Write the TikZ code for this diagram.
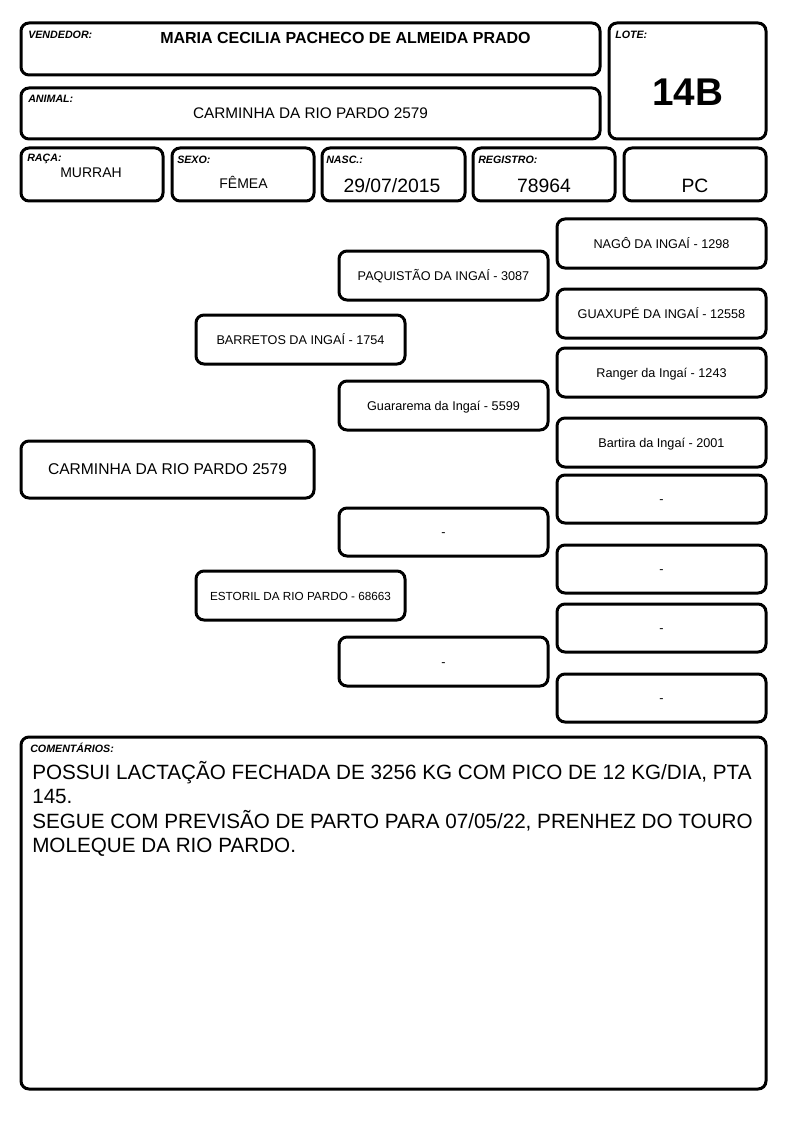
\documentclass[tikz,border=0pt]{standalone}
\usepackage{fontspec}
\setmainfont{Liberation Sans}
\newcommand\fsz[1]{\fontsize{#1}{1.15\dimexpr#1pt\relax}\selectfont}
\begin{document}
\begin{tikzpicture}[x=0.75pt,y=-0.75pt,
  box/.style={draw=black, line width=2.25pt, rounded corners=6pt, inner sep=0pt, fill=white},
  lbl/.style={anchor=base west, inner sep=0pt, font=\fsz{8}\bfseries\itshape},
  val/.style={anchor=base, inner sep=0pt},
  ped/.style={box, text height=0.716em, text depth=0pt, font=\fsz{9.5}}]
\useasboundingbox[fill=white] (0,0) rectangle (794,1123);
\newcommand\bx[6][]{%
  \node[box, #1, minimum width={(#4-#2)*0.75pt}, minimum height={(#5-#3)*0.75pt}]
    at ({(#2+#4)/2},{(#3+#5)/2}) #6;}
% header boxes
\bx{21}{23}{600}{75}{(vendbox) {}}
\bx{21}{88}{600}{139}{(animbox) {}}
\bx{609}{23}{766}{139}{(lotebox) {}}
\bx{21}{148}{163}{201}{(racabox) {}}
\bx{172}{148}{314}{201}{(sexobox) {}}
\bx{322}{148}{465}{201}{(nascbox) {}}
\bx{473}{148}{615}{201}{(regbox) {}}
\bx{624}{148}{766}{201}{(pcbox) {}}
% header labels
\node[lbl] (vendl) at (28,39) {VENDEDOR:};
\node[lbl] (animl) at (28,103) {ANIMAL:};
\node[lbl] (lotel) at (615,39) {LOTE:};
\node[lbl] (racal) at (27,162) {RAÇA:};
\node[lbl] (sexol) at (177,164) {SEXO:};
\node[lbl] (nascl) at (326,164) {NASC.:};
\node[lbl] (regl) at (478,164) {REGISTRO:};
% header values
\node[val, font=\fsz{12}\bfseries] (vendv) at (345.5,44) {MARIA CECILIA PACHECO DE ALMEIDA PRADO};
\node[val, font=\fsz{11.5}] (animv) at (310.5,119) {CARMINHA DA RIO PARDO 2579};
\node[val, font=\fsz{29}\bfseries] (lotev) at (687.5,106) {14B};
\node[val, font=\fsz{10.5}] (racav) at (91,178) {MURRAH};
\node[val, font=\fsz{10.5}] (sexov) at (243.5,189) {FÊMEA};
\node[val, font=\fsz{14.5}] (nascv) at (392,193) {29/07/2015};
\node[val, font=\fsz{14.5}] (regv) at (544,193) {78964};
\node[val, font=\fsz{14.5}] (pcv) at (695,193) {PC};
% pedigree
\bx[ped, font=\fsz{11.7}]{21}{441}{314}{498}{(p0) {CARMINHA DA RIO PARDO 2579}}
\bx[ped]{196}{315}{405}{364}{(p1) {BARRETOS DA INGAÍ - 1754}}
\bx[ped, font=\fsz{8.8}]{196}{571}{405}{620}{(p2) {ESTORIL DA RIO PARDO - 68663}}
\bx[ped]{339}{251}{548}{300}{(p3) {PAQUISTÃO DA INGAÍ - 3087}}
\bx[ped]{339}{381}{548}{430}{(p4) {Guararema da Ingaí - 5599}}
\bx[ped]{339}{508}{548}{556}{(p5) {-}}
\bx[ped]{339}{637}{548}{686}{(p6) {-}}
\bx[ped]{557}{219}{766}{268}{(p7) {NAGÔ DA INGAÍ - 1298}}
\bx[ped]{557}{289}{766}{338}{(p8) {GUAXUPÉ DA INGAÍ - 12558}}
\bx[ped]{557}{348}{766}{397}{(p9) {Ranger da Ingaí - 1243}}
\bx[ped]{557}{418}{766}{467}{(p10) {Bartira da Ingaí - 2001}}
\bx[ped]{557}{475}{766}{523}{(p11) {-}}
\bx[ped]{557}{545}{766}{593}{(p12) {-}}
\bx[ped]{557}{604}{766}{652}{(p13) {-}}
\bx[ped]{557}{674}{766}{722}{(p14) {-}}
% comments
\bx{21}{737}{766}{1089}{(combox) {}}
\node[lbl] (coml) at (30,752) {COMENTÁRIOS:};
\node[anchor=base west, inner sep=0pt, font=\fsz{15.5}] (comv) at (32,779.5)
  {\parbox[t]{730\dimexpr0.75pt\relax}{\fontsize{15.5}{18.3}\selectfont
   POSSUI LACTAÇÃO FECHADA DE 3256 KG COM PICO DE 12 KG/DIA, PTA\\
   145.\\
   SEGUE COM PREVISÃO DE PARTO PARA 07/05/22, PRENHEZ DO TOURO\\
   MOLEQUE DA RIO PARDO.}};
\end{tikzpicture}
\end{document}
